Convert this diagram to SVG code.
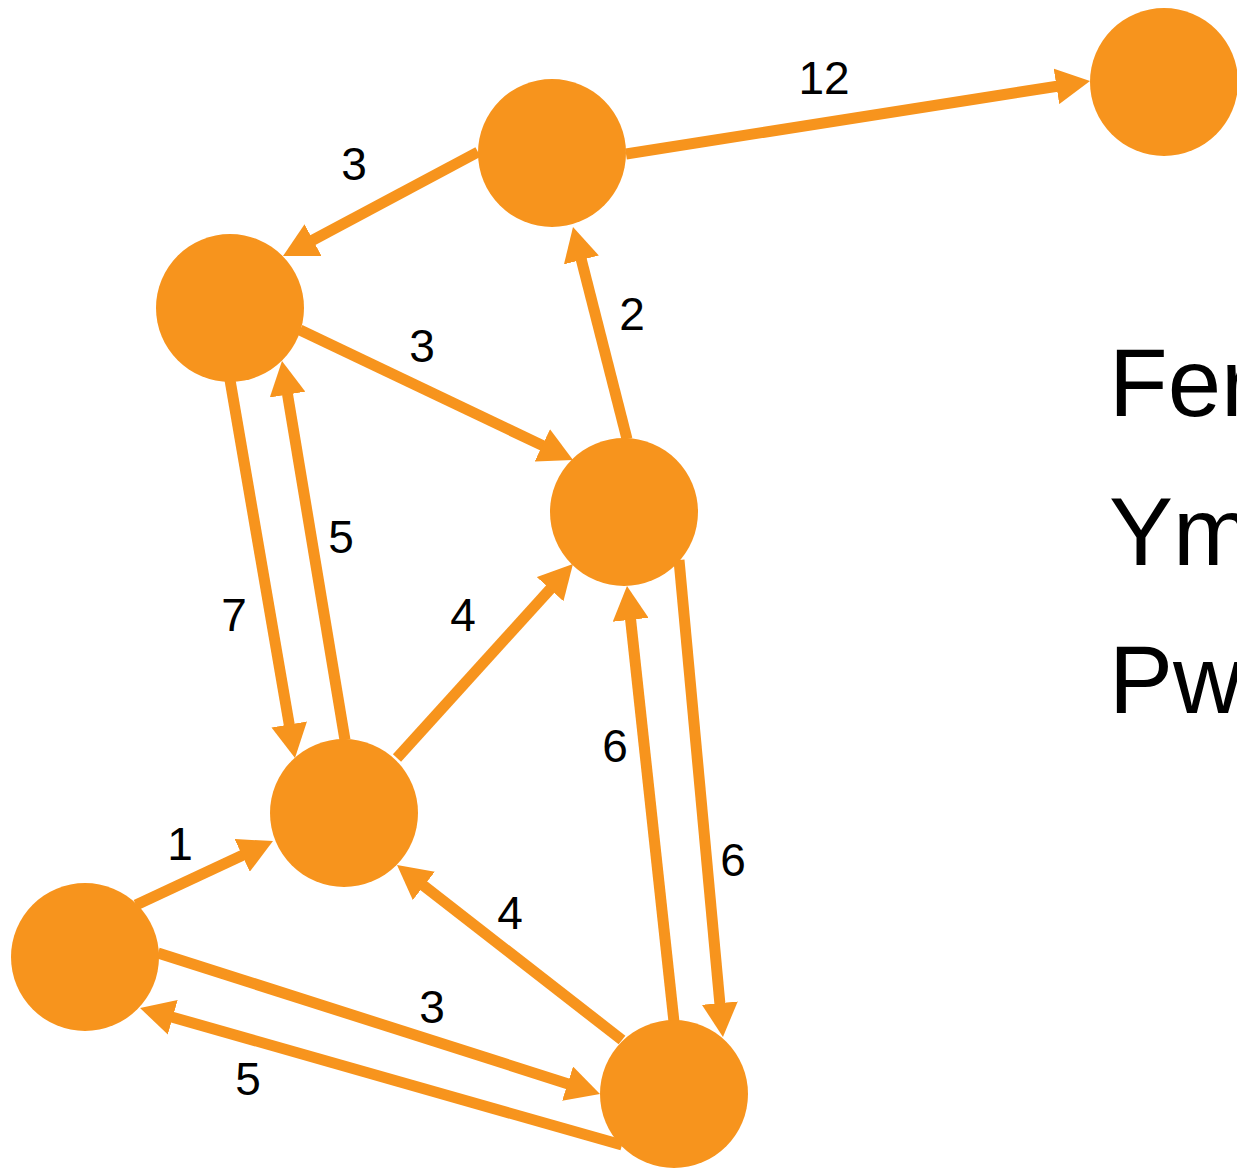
<svg xmlns="http://www.w3.org/2000/svg" width="1237" height="1172" viewBox="0 0 1237 1172">
<style>
.edge{stroke:#F7941D;stroke-width:11;fill:none;marker-end:url(#ah)}
.node{fill:#F7941D}
.lbl{font-family:"Liberation Sans",Arial,sans-serif;font-size:46px;fill:#000;text-anchor:middle}
.big{font-family:"Liberation Sans",Arial,sans-serif;font-size:96px;fill:#000}
</style>
<defs>
<marker id="ah" markerUnits="userSpaceOnUse" markerWidth="34" markerHeight="36" viewBox="0 0 34 36" refX="4" refY="18" orient="auto">
<path d="M0,0 L34,18 L0,36 Z" fill="#F7941D"/>
</marker>
</defs>
<rect width="1237" height="1172" fill="#fff"/>
<g id="connectors">
<line class="edge" x1="626" y1="154" x2="1060.4" y2="85.7"/>
<line class="edge" x1="478" y1="152" x2="309.5" y2="241.9"/>
<line class="edge" x1="300" y1="330" x2="545.9" y2="447.1"/>
<line class="edge" x1="627" y1="439" x2="580.4" y2="256.1"/>
<line class="edge" x1="230" y1="380" x2="289.9" y2="728.4"/>
<line class="edge" x1="345" y1="740" x2="286.9" y2="390.6"/>
<line class="edge" x1="397" y1="758" x2="552.8" y2="586.2"/>
<line class="edge" x1="679" y1="560" x2="720.2" y2="1007.1"/>
<line class="edge" x1="674" y1="1022" x2="630.2" y2="615.8"/>
<line class="edge" x1="622" y1="1040" x2="420.7" y2="883.4"/>
<line class="edge" x1="136" y1="905" x2="245.8" y2="853.7"/>
<line class="edge" x1="158" y1="953" x2="571.4" y2="1084.9"/>
<line class="edge" x1="622" y1="1145" x2="168.9" y2="1016.2"/>
</g>
<g id="labels">
<text class="lbl" x="824" y="94">12</text>
<text class="lbl" x="354" y="180">3</text>
<text class="lbl" x="422" y="362">3</text>
<text class="lbl" x="632" y="330">2</text>
<text class="lbl" x="234" y="631">7</text>
<text class="lbl" x="341" y="553">5</text>
<text class="lbl" x="463" y="631">4</text>
<text class="lbl" x="615" y="762">6</text>
<text class="lbl" x="733" y="876">6</text>
<text class="lbl" x="510" y="929">4</text>
<text class="lbl" x="180" y="860">1</text>
<text class="lbl" x="432" y="1023">3</text>
<text class="lbl" x="248" y="1095">5</text>
</g>
<g id="nA"><circle class="node" cx="552" cy="153" r="74"/></g>
<g id="nB"><circle class="node" cx="1164" cy="82" r="74"/></g>
<g id="nC"><circle class="node" cx="230" cy="308" r="74"/></g>
<g id="nD"><circle class="node" cx="624" cy="512" r="74"/></g>
<g id="nE"><circle class="node" cx="344" cy="813" r="74"/></g>
<g id="nF"><circle class="node" cx="85" cy="957" r="74"/></g>
<g id="nG"><circle class="node" cx="674" cy="1094" r="74"/></g>
<g id="legend">
<text class="big" x="1109" y="416">Fer</text>
<text class="big" x="1109" y="565">Ym</text>
<text class="big" x="1109" y="713">Pw</text>
</g>
</svg>
